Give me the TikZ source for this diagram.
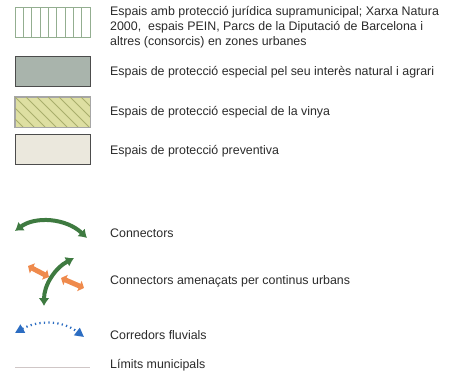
\documentclass[tikz,border=0pt]{standalone}
\usepackage{fontspec}
\setmainfont{Liberation Sans}
\usetikzlibrary{arrows.meta}
\tikzset{>=latex}
\definecolor{txtgray}{HTML}{2A2A2A}
\definecolor{peingreen}{HTML}{93AE90}
\definecolor{agrari}{HTML}{A9B4AC}
\definecolor{vinya}{HTML}{DEDFA2}
\definecolor{vinyahatch}{HTML}{A9AE6C}
\definecolor{preventiva}{HTML}{EBE8DD}
\definecolor{conngreen}{HTML}{3E7A40}
\definecolor{connorange}{HTML}{EF8A4C}
\definecolor{fluvblue}{HTML}{2C6DC2}
\definecolor{limitline}{HTML}{CFC6C6}
\tikzset{
  legbox/.style={minimum width=75pt, minimum height=30pt, inner sep=0pt, line width=1pt},
  legtext/.style={anchor=west, inner sep=0pt, text=txtgray, font=\fontsize{12.4}{15}\selectfont, align=left}
}

\begin{document}
\begin{tikzpicture}[x=1pt, y=-1pt]
    \useasboundingbox (0, 0) rectangle (461, 383);
    % boxes
    \node[legbox, draw=peingreen, fill=white] (pein) at (52.5, 22) {};
    \foreach \i in {1,...,8}
        \draw[peingreen, line width=0.9pt] (15+\i*8.33, 7)--(15+\i*8.33, 37);
    \node[legbox, draw=black!70, fill=agrari] (agrari) at (52.5, 71.5) {};
    \node[legbox, draw=black!35, fill=vinya] (vinya) at (52.5, 112) {};
    \begin{scope}
        \clip (vinya.south west) rectangle (vinya.north east);
        \foreach \i in {-2,...,7}
            \draw[vinyahatch, line width=0.8pt] (15+\i*11, 97)--(45+\i*11, 127);
    \end{scope}
    \draw[black!35, line width=1pt] (vinya.south west) rectangle (vinya.north east);
    \node[legbox, draw=black!70, fill=preventiva] (prev) at (52.5, 149) {};
    % texts
    \node[legtext] (tpein) at (110, 27) {Espais amb protecció jurídica supramunicipal; Xarxa Natura\\2000,~ espais PEIN, Parcs de la Diputació de Barcelona i\\altres (consorcis) en zones urbanes};
    \node[legtext] (tagrari) at (110, 72) {Espais de protecció especial pel seu interès natural i agrari};
    \node[legtext] (tvinya) at (110, 112) {Espais de protecció especial de la vinya};
    \node[legtext] (tprev) at (110, 151) {Espais de protecció preventiva};
    \node[legtext] (tconn) at (110, 233) {Connectors};
    \node[legtext] (tamen) at (110, 281) {Connectors amenaçats per continus urbans};
    \node[legtext] (tfluv) at (110, 335) {Corredors fluvials};
    \node[legtext] (tlim) at (110, 365) {Límits municipals};
    % symbols
    \coordinate (c1a) at (15, 231);
    \coordinate (c1b) at (87, 238);
    \draw[conngreen, line width=4pt, {Latex[length=8pt,width=11pt]}-{Latex[length=8pt,width=11pt]}] (c1a) .. controls (35, 216) and (66, 218) .. (c1b);
    \coordinate (c2a) at (44, 306);
    \coordinate (c2b) at (74, 258);
    \draw[conngreen, line width=4pt, {Latex[length=8pt,width=11pt]}-{Latex[length=8pt,width=11pt]}] (c2a) .. controls (44, 285) and (55, 268) .. (c2b);
    \coordinate (o1a) at (28, 266);
    \coordinate (o1b) at (49, 277);
    \draw[connorange, line width=5pt, {Triangle[length=5pt,width=11pt]}-{Triangle[length=5pt,width=11pt]}] (o1a)--(o1b);
    \coordinate (o2a) at (61, 278);
    \coordinate (o2b) at (84, 288);
    \draw[connorange, line width=5pt, {Triangle[length=5pt,width=11pt]}-{Triangle[length=5pt,width=11pt]}] (o2a)--(o2b);
    \coordinate (f1) at (15, 333);
    \coordinate (f2) at (84, 337);
    \draw[fluvblue, line width=2.2pt, dash pattern=on 1.3pt off 3.2pt, {Triangle[length=9pt,width=9pt]}-{Triangle[length=9pt,width=9pt]}] (f1) .. controls (38, 320) and (62, 320) .. (f2);
    \coordinate (l1) at (15, 367);
    \coordinate (l2) at (90, 367);
    \draw[limitline, line width=1pt] (l1)--(l2);
\end{tikzpicture}
\end{document}
